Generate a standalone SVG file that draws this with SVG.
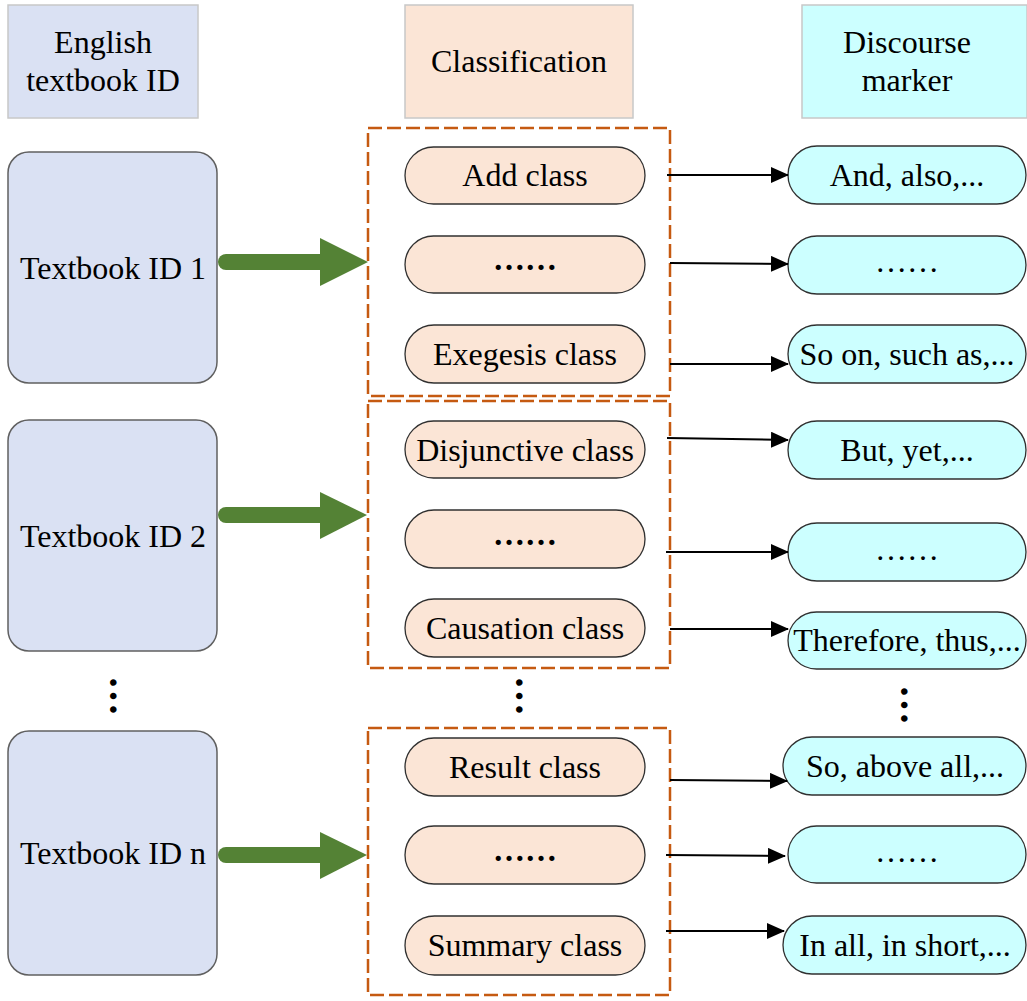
<svg xmlns="http://www.w3.org/2000/svg" width="1027" height="1001" viewBox="0 0 1027 1001">
<defs>
<style>
text{font-family:"Liberation Serif","Times New Roman",serif;font-size:32px;fill:#000;text-anchor:middle}
.hdr{stroke:#c8c8c8;stroke-width:1.5}
.tb{fill:#dae1f3;stroke:#606060;stroke-width:1.5}
.cls{fill:#fbe5d6;stroke:#303030;stroke-width:1.3}
.dm{fill:#ccffff;stroke:#303030;stroke-width:1.3}
.grp{fill:none;stroke:#c55a11;stroke-width:2.5;stroke-dasharray:14 5}
.ln{stroke:#000;stroke-width:2;fill:none}
.g{stroke:#548235;stroke-width:16;stroke-linecap:round;fill:none}
.gh{fill:#548235}
.b{font-weight:bold}
</style>
<marker id="ah" markerWidth="18" markerHeight="16" refX="17" refY="8" orient="auto" markerUnits="userSpaceOnUse">
<path d="M0,0 L18,8 L0,16 Z" fill="#000"/>
</marker>
</defs>

<g id="header-textbook">
<rect class="hdr" x="8" y="5" width="190" height="113" fill="#dae1f3"/>
<text x="103" y="53">English</text>
<text x="103" y="91">textbook ID</text>
</g>
<g id="header-classification">
<rect class="hdr" x="405" y="5" width="228" height="113" fill="#fbe5d6"/>
<text x="519" y="72">Classification</text>
</g>
<g id="header-discourse">
<rect class="hdr" x="802" y="5" width="225" height="113" fill="#ccffff"/>
<text x="907" y="53">Discourse</text>
<text x="907" y="91">marker</text>
</g>

<g id="textbook-1"><rect class="tb" x="8" y="152" width="209" height="231" rx="21"/><text x="113" y="279">Textbook ID 1</text></g>
<g id="textbook-2"><rect class="tb" x="8" y="420" width="209" height="231" rx="21"/><text x="113" y="547">Textbook ID 2</text></g>
<g id="textbook-n"><rect class="tb" x="8" y="731" width="209" height="244" rx="21"/><text x="113" y="864">Textbook ID n</text></g>

<g id="group-1"><rect class="grp" x="368" y="128" width="302" height="268"/></g>
<g id="group-2"><rect class="grp" x="368" y="401" width="302" height="267"/></g>
<g id="group-3"><rect class="grp" x="368" y="728" width="302" height="267"/></g>

<g id="cls-add"><rect class="cls" x="405" y="147" width="240" height="57" rx="28.5"/><text x="525" y="186">Add class</text></g>
<g id="cls-dots-1"><rect class="cls" x="405" y="236" width="240" height="57" rx="28.5"/><text class="b" x="525" y="270">……</text></g>
<g id="cls-exegesis"><rect class="cls" x="405" y="325" width="240" height="58" rx="29"/><text x="525" y="365">Exegesis class</text></g>
<g id="cls-disjunctive"><rect class="cls" x="405" y="421" width="240" height="57" rx="28.5"/><text x="525" y="461">Disjunctive class</text></g>
<g id="cls-dots-2"><rect class="cls" x="405" y="510" width="240" height="58" rx="29"/><text class="b" x="525" y="545">……</text></g>
<g id="cls-causation"><rect class="cls" x="405" y="599" width="240" height="58" rx="29"/><text x="525" y="639">Causation class</text></g>
<g id="cls-result"><rect class="cls" x="405" y="738" width="240" height="58" rx="29"/><text x="525" y="778">Result class</text></g>
<g id="cls-dots-3"><rect class="cls" x="405" y="826" width="240" height="58" rx="29"/><text class="b" x="525" y="861">……</text></g>
<g id="cls-summary"><rect class="cls" x="405" y="916" width="240" height="59" rx="29.5"/><text x="525" y="956">Summary class</text></g>

<g id="dm-and"><rect class="dm" x="788" y="146" width="238" height="58" rx="29"/><text x="907" y="186">And, also,...</text></g>
<g id="dm-dots-1"><rect class="dm" x="788" y="236" width="238" height="58" rx="29"/><text x="907" y="272">……</text></g>
<g id="dm-soon"><rect class="dm" x="788" y="325" width="238" height="58" rx="29"/><text x="907" y="365">So on, such as,...</text></g>
<g id="dm-but"><rect class="dm" x="788" y="421" width="238" height="58" rx="29"/><text x="907" y="461">But, yet,...</text></g>
<g id="dm-dots-2"><rect class="dm" x="788" y="523" width="238" height="58" rx="29"/><text x="907" y="560">……</text></g>
<g id="dm-therefore"><rect class="dm" x="788" y="612" width="238" height="57" rx="28.5"/><text x="907" y="651">Therefore, thus,...</text></g>
<g id="dm-soabove"><rect class="dm" x="783" y="737" width="243" height="58" rx="29"/><text x="905" y="777">So, above all,...</text></g>
<g id="dm-dots-3"><rect class="dm" x="788" y="826" width="238" height="57" rx="28.5"/><text x="907" y="862">……</text></g>
<g id="dm-inall"><rect class="dm" x="783" y="916" width="243" height="58" rx="29"/><text x="905" y="956">In all, in short,...</text></g>

<g id="vdots">
<text class="b" x="0" y="0" transform="translate(110,696) rotate(90)" style="font-size:40px">…</text>
<text class="b" x="0" y="0" transform="translate(516,696) rotate(90)" style="font-size:40px">…</text>
<text class="b" x="0" y="0" transform="translate(901,705) rotate(90)" style="font-size:40px">…</text>
</g>

<g id="connectors">
<line class="g" x1="226" y1="262" x2="325" y2="262"/>
<path class="gh" d="M320,238 L368,262 L320,286 Z"/>
<line class="g" x1="226" y1="515" x2="325" y2="515"/>
<path class="gh" d="M320,492 L367,515 L320,539 Z"/>
<line class="g" x1="226" y1="855" x2="325" y2="855"/>
<path class="gh" d="M320,832 L367,855 L320,879 Z"/>

<line class="ln" x1="667" y1="175" x2="788" y2="175" marker-end="url(#ah)"/>
<line class="ln" x1="670" y1="263" x2="788" y2="264" marker-end="url(#ah)"/>
<line class="ln" x1="670" y1="364" x2="788" y2="364" marker-end="url(#ah)"/>
<line class="ln" x1="667" y1="438" x2="788" y2="440" marker-end="url(#ah)"/>
<line class="ln" x1="666" y1="552" x2="788" y2="552" marker-end="url(#ah)"/>
<line class="ln" x1="670" y1="629" x2="788" y2="629" marker-end="url(#ah)"/>
<line class="ln" x1="670" y1="780" x2="787" y2="781" marker-end="url(#ah)"/>
<line class="ln" x1="666" y1="855" x2="785" y2="856" marker-end="url(#ah)"/>
<line class="ln" x1="666" y1="931" x2="784" y2="931" marker-end="url(#ah)"/>
</g>
</svg>
